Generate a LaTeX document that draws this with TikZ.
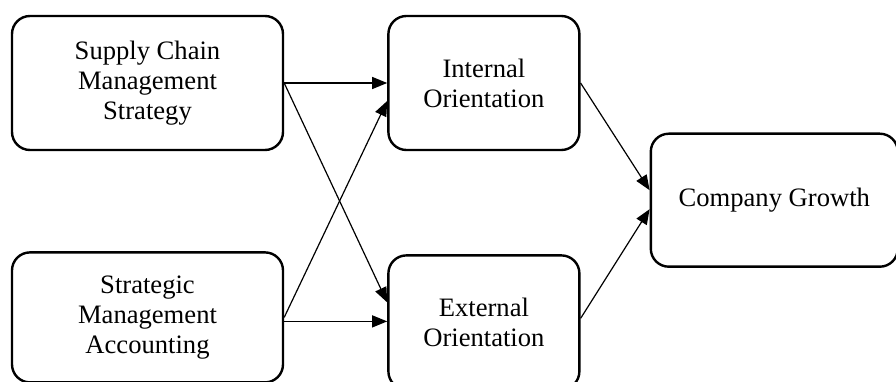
\documentclass[tikz,border=0pt]{standalone}
\usepackage{fontspec}
\setmainfont{Liberation Serif}
\usepackage{tikz}
\usetikzlibrary{arrows.meta, positioning, calc}

\begin{document}
\begin{tikzpicture}[
        node distance=50pt and 51.5pt,
        box/.style={rectangle, draw, rounded corners=9pt, line width=1.2pt, minimum width=135.5pt, minimum height=67pt, align=center, font=\fontsize{13.3}{15}\selectfont},
        smallbox/.style={box, minimum width=95.5pt},
        arrow/.style={-{Triangle[length=7.5pt, width=6pt]}, line width=0.6pt}
    ]
    
    % Frame
    \clip (0,0) rectangle (448pt,190.5pt);
    
    % Nodes
    \node[box] (scm) at (73.75pt,149pt) {Supply Chain\\Management\\Strategy};
    \node[box, below=of scm, minimum height=65pt] (sma) {Strategic\\Management\\Accounting};
    \node[smallbox, right=of scm] (io) {Internal\\Orientation};
    \node[smallbox, below=51.5pt of io] (eo) {External\\Orientation};
    \node[box, minimum width=123.5pt, minimum height=66.5pt, right=34.5pt of $(io.east)!0.5!(eo.east)$, yshift=1.25pt] (cg) {Company Growth};
    
    % Arrows
    \draw[arrow] (scm.east) -- (io.west);
    \draw[arrow] (scm.east) -- ([yshift=10pt]eo.west);
    \draw[arrow] (sma.east) -- ([yshift=-9pt]io.west);
    \draw[arrow] ([yshift=-2pt]sma.east) -- ([yshift=-2pt]sma.east -| eo.west);
    
    \draw[arrow] (io.east) -- ([yshift=5pt]cg.west);
    \draw[arrow] ([yshift=2pt]eo.east) -- ([yshift=-4.5pt]cg.west);
    
    \end{tikzpicture}
\end{document}
